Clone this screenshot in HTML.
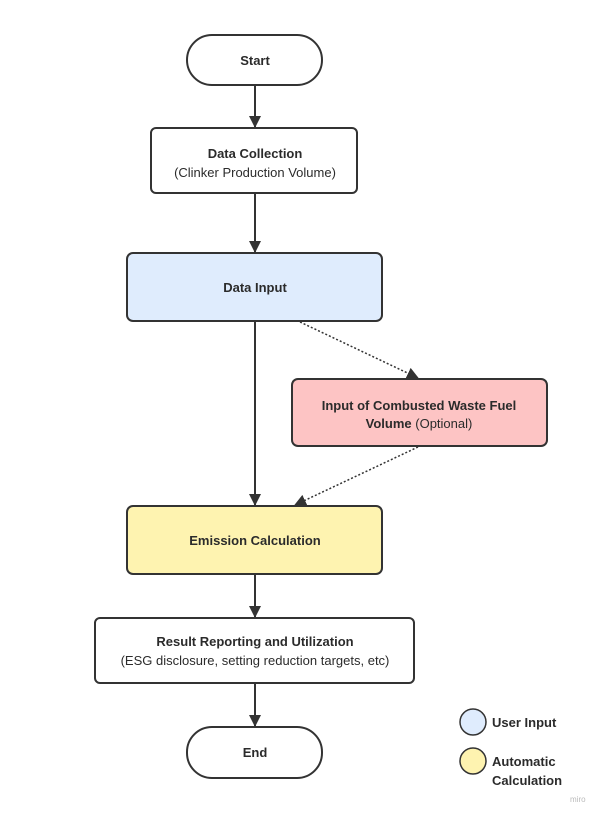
<!DOCTYPE html>
<html><head><style>
body{margin:0;background:#fff;}
svg text{font-family:"Liberation Sans",sans-serif;fill:#2b2b2b;}
</style></head><body>
<svg width="602" height="816" xmlns="http://www.w3.org/2000/svg">
<defs>
<marker id="a" markerWidth="12" markerHeight="12" refX="11" refY="6" orient="auto" markerUnits="userSpaceOnUse"><path d="M0,0 L12,6 L0,12 Z" fill="#333"/></marker>
</defs>
<g stroke="#333" stroke-width="2" fill="none">
<line x1="255" y1="86" x2="255" y2="127" marker-end="url(#a)"/>
<line x1="255" y1="194" x2="255" y2="252" marker-end="url(#a)"/>
<line x1="255" y1="322" x2="255" y2="505" marker-end="url(#a)"/>
<line x1="255" y1="575" x2="255" y2="617" marker-end="url(#a)"/>
<line x1="255" y1="684" x2="255" y2="726" marker-end="url(#a)"/>
<line x1="300" y1="322" x2="418" y2="378" stroke-width="1.5" stroke-dasharray="2,2" marker-end="url(#a)"/>
<line x1="418" y1="447" x2="295" y2="505" stroke-width="1.5" stroke-dasharray="2,2" marker-end="url(#a)"/>
</g>
<g stroke="#333" stroke-width="2">
<rect x="187" y="35" width="135" height="50" rx="25" fill="#fff"/>
<rect x="151" y="128" width="206" height="65" rx="5" fill="#fff"/>
<rect x="127" y="253" width="255" height="68" rx="6" fill="#dfecfd"/>
<rect x="292" y="379" width="255" height="67" rx="6" fill="#fdc4c4"/>
<rect x="127" y="506" width="255" height="68" rx="6" fill="#fef3b0"/>
<rect x="95" y="618" width="319" height="65" rx="5" fill="#fff"/>
<rect x="187" y="727" width="135" height="51" rx="25" fill="#fff"/>
<circle cx="473" cy="722" r="13" fill="#dfecfd" stroke-width="1.5"/>
<circle cx="473" cy="761" r="13" fill="#fef3b0" stroke-width="1.5"/>
</g>
<g font-size="13" text-anchor="middle">
<text x="255" y="65" font-weight="bold">Start</text>
<text x="255" y="158" font-weight="bold">Data Collection</text>
<text x="255" y="177">(Clinker Production Volume)</text>
<text x="255" y="292" font-weight="bold">Data Input</text>
<text x="419" y="410" font-weight="bold">Input of Combusted Waste Fuel</text>
<text x="419" y="428"><tspan font-weight="bold">Volume</tspan> (Optional)</text>
<text x="255" y="545" font-weight="bold">Emission Calculation</text>
<text x="255" y="646" font-weight="bold">Result Reporting and Utilization</text>
<text x="255" y="665">(ESG disclosure, setting reduction targets, etc)</text>
<text x="255" y="757" font-weight="bold">End</text>
</g>
<g font-size="13" font-weight="bold">
<text x="492" y="727">User Input</text>
<text x="492" y="766">Automatic</text>
<text x="492" y="785">Calculation</text>
</g>
<text x="570" y="802" font-size="8" style="fill:#bbb">miro</text>
</svg>
</body></html>
